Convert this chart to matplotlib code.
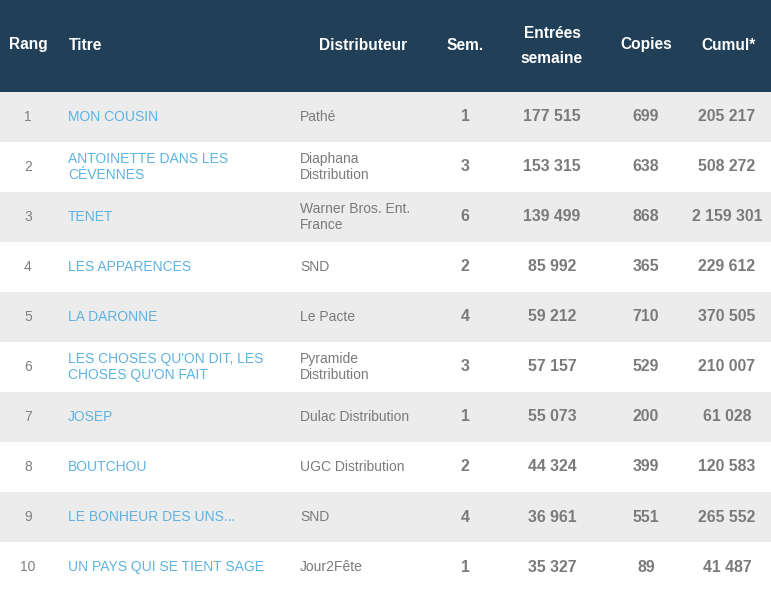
import matplotlib
matplotlib.use("Agg")
import matplotlib.pyplot as plt
from matplotlib.patches import Rectangle

plt.rcParams['font.family'] = ['Liberation Sans', 'DejaVu Sans']

headers = ["Rang", "Titre", "Distributeur", "Sem.", "Entrées\nsemaine", "Copies", "Cumul*"]
rangs = ["1", "2", "3", "4", "5", "6", "7", "8", "9", "10"]
titres = ["MON COUSIN", "ANTOINETTE DANS LES\nCÉVENNES", "TENET", "LES APPARENCES",
          "LA DARONNE", "LES CHOSES QU'ON DIT, LES\nCHOSES QU'ON FAIT", "JOSEP",
          "BOUTCHOU", "LE BONHEUR DES UNS...", "UN PAYS QUI SE TIENT SAGE"]
distributeurs = ["Pathé", "Diaphana\nDistribution", "Warner Bros. Ent.\nFrance", "SND",
                 "Le Pacte", "Pyramide\nDistribution", "Dulac Distribution",
                 "UGC Distribution", "SND", "Jour2Fête"]
semaines = ["1", "3", "6", "2", "4", "3", "1", "2", "4", "1"]
entrees = ["177 515", "153 315", "139 499", "85 992", "59 212", "57 157", "55 073",
           "44 324", "36 961", "35 327"]
copies = ["699", "638", "868", "365", "710", "529", "200", "399", "551", "89"]
cumul = ["205 217", "508 272", "2 159 301", "229 612", "370 505", "210 007", "61 028",
         "120 583", "265 552", "41 487"]

W, H = 771, 593
fig = plt.figure(figsize=(W / 100, H / 100), dpi=100)
ax = fig.add_axes([0, 0, 1, 1])
header_h = 92 / 50.0
ax.set_xlim(0, W)
ax.set_ylim(len(rangs) + 1 / 50.0, -header_h)
ax.axis('off')

# header
ax.add_patch(Rectangle((0, -header_h), W, header_h, color="#213f57", lw=0))
hy = -header_h / 2 - 0.02
hprops = dict(color="white", fontsize=11.2, fontweight="bold", va="center")
ax.text(28, hy, headers[0], ha="center", **hprops)
ax.text(69, hy, headers[1], ha="left", **hprops)
ax.text(363, hy, headers[2], ha="center", **hprops)
ax.text(465, hy, headers[3], ha="center", **hprops)
ax.text(552, hy + 0.02, headers[4], ha="center", linespacing=1.85, **hprops)
ax.text(646, hy, headers[5], ha="center", **hprops)
ax.text(728, hy, headers[6], ha="center", **hprops)

for i in range(len(rangs)):
    if i % 2 == 0:
        ax.add_patch(Rectangle((0, i), W, 1, color="#ececec", lw=0))
    y = i + 0.5
    ax.text(28, y, rangs[i], ha="center", va="center", color="#808080", fontsize=10)
    ax.text(68, y, titres[i], ha="left", va="center", color="#5fb3e0", fontsize=10,
            linespacing=1.25)
    ax.text(300, y, distributeurs[i], ha="left", va="center", color="#7a7a7a", fontsize=10,
            linespacing=1.25)
    nprops = dict(ha="center", va="center", color="#7a7a7a", fontsize=11.4, fontweight="bold")
    ax.text(465, y, semaines[i], **nprops)
    ax.text(552, y, entrees[i], **nprops)
    ax.text(646, y, copies[i], **nprops)
    ax.text(727, y, cumul[i], **nprops)

fig.savefig("out.png", dpi=100)
